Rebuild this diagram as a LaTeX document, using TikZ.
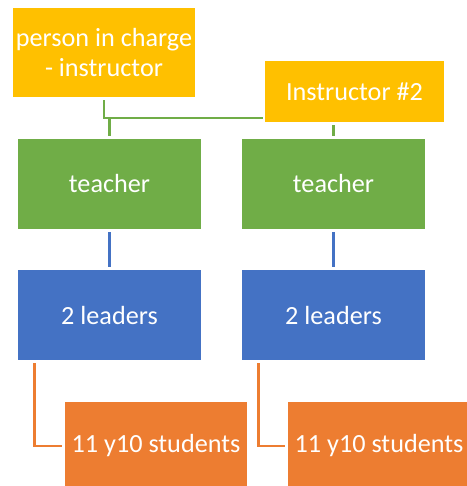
\documentclass[tikz,border=0pt]{standalone}
\usepackage{fontspec}
\setmainfont{Carlito}
\definecolor{gold}{HTML}{FFC000}
\definecolor{grn}{HTML}{70AD47}
\definecolor{blu}{HTML}{4472C4}
\definecolor{org}{HTML}{ED7D31}
\begin{document}
\begin{tikzpicture}[x=1pt,y=-1pt,
  box/.style={rectangle, inner sep=0pt, text=white, align=center,
    font=\fontsize{26.2}{30}\selectfont},
  conn/.style={line width=2.8pt}]
\useasboundingbox (0,0) rectangle (466,486);
\node[box, fill=gold, minimum width=182pt, minimum height=89pt] (p) at (104,52.5) {person in charge\\- instructor};
\node[box, fill=gold, minimum width=179pt, minimum height=61pt] (i2) at (354.5,91.5) {Instructor \#2};
\node[box, fill=grn, minimum width=183pt, minimum height=90pt] (t1) at (109.5,184) {teacher};
\node[box, fill=grn, minimum width=183pt, minimum height=90pt] (t2) at (333.5,184) {teacher};
\node[box, fill=blu, minimum width=183pt, minimum height=90pt] (l1) at (109.5,315) {2 leaders};
\node[box, fill=blu, minimum width=183pt, minimum height=90pt] (l2) at (333.5,315) {2 leaders};
\node[box, fill=org, minimum width=182pt, minimum height=88pt] (s1) at (156,446) {11 y10 students};
\node[box, fill=org, minimum width=182pt, minimum height=88pt] (s2) at (379,446) {11 y10 students};
\coordinate (j1) at (109.5,118);
\draw[conn, grn] ([yshift=-3pt]p.south) |- ([xshift=-2pt]i2.west |- j1);
\draw[conn, grn] (j1) -- ([yshift=3pt]t1.north);
\draw[conn, grn] ([yshift=-3pt]i2.south -| t2.north) -- ([yshift=3pt]t2.north);
\draw[conn, blu] ([yshift=-3pt]t1.south) -- ([yshift=3pt]l1.north);
\draw[conn, blu] ([yshift=-3pt]t2.south) -- ([yshift=3pt]l2.north);
\draw[conn, org] ([xshift=17pt,yshift=-3pt]l1.south west) |- ([xshift=-3pt]s1.west);
\draw[conn, org] ([xshift=17pt,yshift=-3pt]l2.south west) |- ([xshift=-3pt]s2.west);
\end{tikzpicture}
\end{document}
